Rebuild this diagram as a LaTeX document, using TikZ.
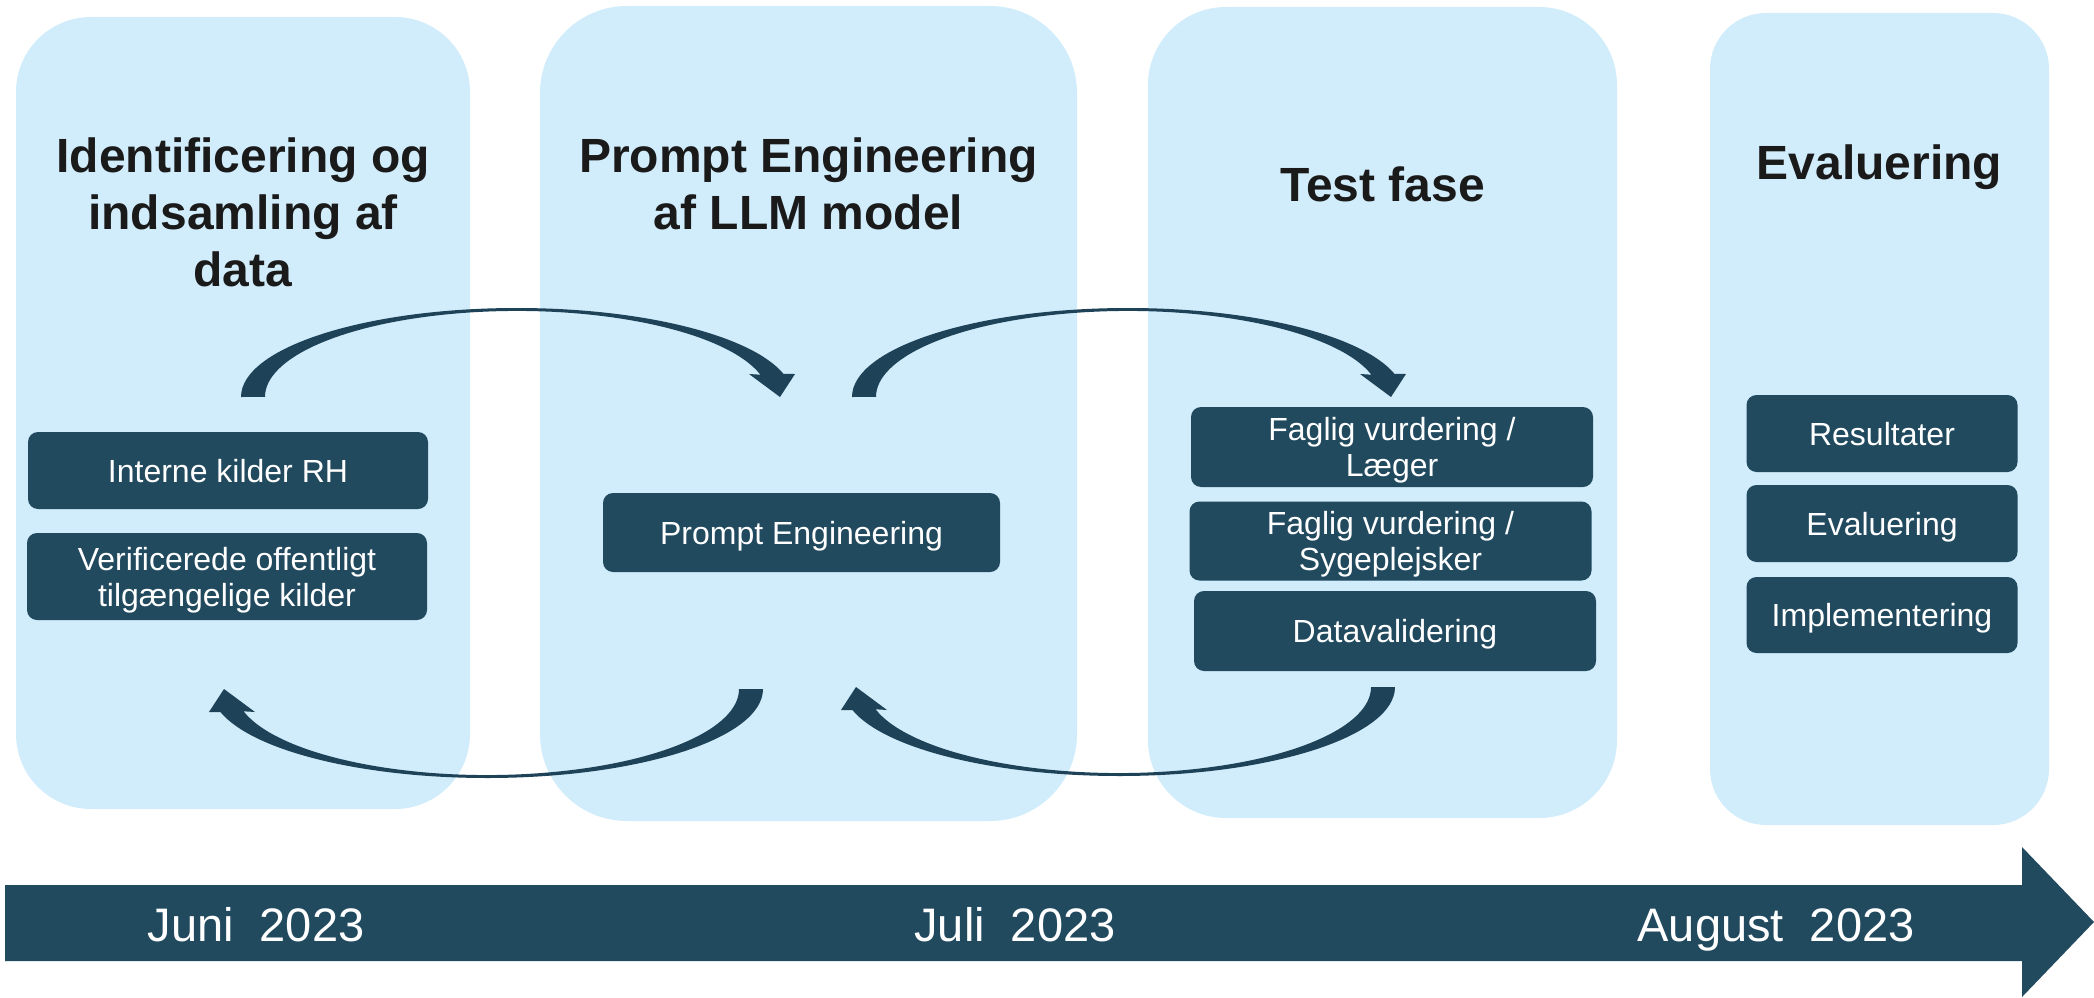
\documentclass[tikz,border=0pt]{standalone}
\usepackage{fontspec}
\setmainfont{Liberation Sans}
\usepackage{tikz}

\definecolor{phasebg}{RGB}{209,236,250}
\definecolor{taskbg}{RGB}{33,74,95}
\definecolor{bendcol}{RGB}{30,67,88}
\definecolor{titlecol}{RGB}{26,26,26}

\begin{document}
\begin{tikzpicture}[
        x=1pt, y=-1pt,
        phase/.style={fill=phasebg, rounded corners=#1, inner sep=0pt},
        title/.style={anchor=north, inner sep=0pt, align=center, text=titlecol,
            font=\fontsize{48}{57}\selectfont\bfseries},
        task/.style={fill=taskbg, rounded corners=10pt, inner sep=0pt, text depth=0pt,
            align=center, text=white, font=\fontsize{32}{36}\selectfont},
        month/.style={anchor=base, text=white, font=\fontsize{47}{56}\selectfont},
        bendarrow/.pic={
            \fill[bendcol] (-261,-146)
                arc[start angle=180, end angle=345, x radius=276, y radius=89]
                -- (293,-169) -- (278,-146) -- (247,-169) -- (258.4,-168.3)
                arc[start angle=345, end angle=180, x radius=252, y radius=86]
                -- cycle;
        },
    ]
    \useasboundingbox (0,0) rectangle (2094,998);
    % phases
    \node[phase=75pt, minimum width=454pt, minimum height=792pt] (ph_data) at (243,413) {};
    \node[phase=87pt, minimum width=537pt, minimum height=815pt] (ph_prompt) at (808.5,413.5) {};
    \node[phase=78pt, minimum width=469pt, minimum height=811pt] (ph_test) at (1382.5,412.5) {};
    \node[phase=56pt, minimum width=339pt, minimum height=812pt] (ph_eval) at (1879.5,419) {};

    \node[title] (ti_data) at (243,138) {Identificering og\\indsamling af\\data};
    \node[title] (ti_prompt) at (808.5,138) {Prompt Engineering\\af LLM model};
    \node[title] (ti_test) at (1382.5,167) {Test fase};
    \node[title] (ti_eval) at (1879.5,145) {Evaluering};

    % tasks
    \node[task, minimum width=400pt, minimum height=77pt] (t_intern) at (228,470.5) {Interne kilder RH};
    \node[task, minimum width=400pt, minimum height=87pt] (t_verif) at (227,576.5) {Verificerede offentligt\\tilgængelige kilder};
    \node[task, minimum width=397pt, minimum height=79pt] (t_prompt) at (801.5,532.5) {Prompt Engineering};
    \node[task, minimum width=402pt, minimum height=80pt] (t_laeger) at (1392,447) {Faglig vurdering /\\Læger};
    \node[task, minimum width=402pt, minimum height=79pt] (t_sygepl) at (1390.5,541) {Faglig vurdering /\\Sygeplejsker};
    \node[task, minimum width=402pt, minimum height=80pt] (t_valid) at (1395,631) {Datavalidering};
    \node[task, minimum width=271pt, minimum height=77pt] (t_result) at (1882,433.5) {Resultater};
    \node[task, minimum width=271pt, minimum height=77pt] (t_evalu) at (1882,523.5) {Evaluering};
    \node[task, minimum width=271pt, minimum height=76pt] (t_impl) at (1882,615) {Implementering};

    % bent arrows between the phases
    \pic at (502,543) {bendarrow};
    \pic at (1113,543) {bendarrow};
    \pic[rotate=180] at (502,543) {bendarrow};
    \pic[rotate=180] at (1134,541) {bendarrow};

    % time line
    \fill[taskbg] (5,885) -- (2022,885) -- (2022,847) -- (2094,922)
                  -- (2022,997) -- (2022,961) -- (5,961) -- cycle;
    \node[month] (m_jun) at (256,941) {Juni~~2023};
    \node[month] (m_jul) at (1015,941) {Juli~~2023};
    \node[month] (m_aug) at (1776,941) {August~~2023};
\end{tikzpicture}
\end{document}
